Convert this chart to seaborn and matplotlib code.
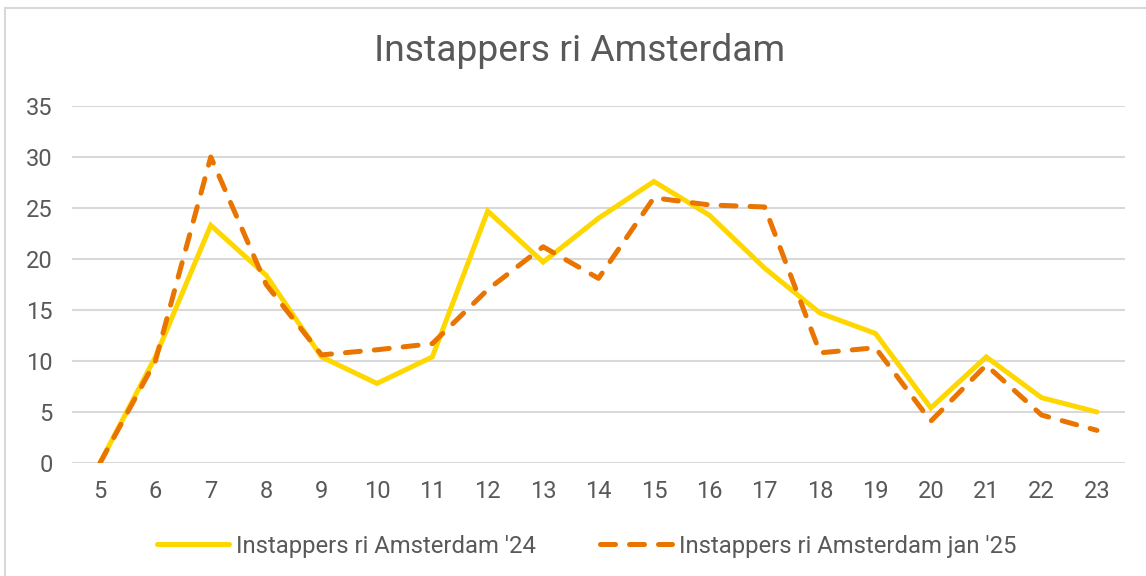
import matplotlib
matplotlib.use("Agg")
import matplotlib.pyplot as plt
import seaborn as sns
import pandas as pd
from matplotlib.lines import Line2D

hours = [5, 6, 7, 8, 9, 10, 11, 12, 13, 14, 15, 16, 17, 18, 19, 20, 21, 22, 23]
series_24 = [0, 10.4, 23.3, 18.4, 10.4, 7.8, 10.4, 24.7, 19.7, 24.0, 27.6, 24.3, 19.1, 14.7, 12.7, 5.4, 10.4, 6.4, 5.0]
series_25 = [0, 10.0, 30.0, 17.5, 10.6, 11.1, 11.7, 17.0, 21.2, 18.1, 26.0, 25.3, 25.1, 10.8, 11.3, 4.1, 9.6, 4.7, 3.2]
label_24 = "Instappers ri Amsterdam '24"
label_25 = "Instappers ri Amsterdam jan '25"
title = "Instappers ri Amsterdam"
yticks = [0, 5, 10, 15, 20, 25, 30, 35]

sns.set_theme(style="white")
plt.rcParams['font.family'] = ['Roboto', 'DejaVu Sans']

TEXT = '#595959'
GRID = '#D9D9D9'
YELLOW = '#FFD700'
ORANGE = '#E97500'

fig = plt.figure(figsize=(11.46, 5.76), dpi=100)
W, H = 1146, 576
ax = fig.add_axes([72.3 / W, 1 - 463 / H, (1124.7 - 72.3) / W, (463 - 106) / H])

df = pd.DataFrame({'hour': hours, 'v24': series_24, 'v25': series_25})

sns.lineplot(data=df, x='hour', y='v24', ax=ax, color=YELLOW, linewidth=3.6,
             solid_capstyle='round', solid_joinstyle='miter', zorder=3)
sns.lineplot(data=df, x='hour', y='v25', ax=ax, color=ORANGE, linewidth=3.6,
             dashes=(3.0, 2.8), dash_capstyle='round', dash_joinstyle='round', zorder=4)

ax.set_xlim(4.5, 23.5)
ax.set_ylim(0, 35)
ax.set_xticks(hours)
ax.set_xticklabels([str(h) for h in hours])
ax.set_yticks(yticks)
ax.set_yticklabels([str(t) for t in yticks])
ax.set_xlabel('')
ax.set_ylabel('')
for s in ax.spines.values():
    s.set_visible(False)
ax.grid(axis='y', color=GRID, linewidth=1.5, zorder=0)
ax.grid(axis='x', visible=False)
ax.set_axisbelow(True)
ax.tick_params(axis='both', length=0, labelsize=17, colors=TEXT)
ax.tick_params(axis='y', pad=14)
ax.tick_params(axis='x', pad=12)

fig.text(580 / W, 1 - 51 / H, title, ha='center', va='center', fontsize=26.8, color=TEXT)

handles = [Line2D([], [], color=YELLOW, linewidth=3.6, solid_capstyle='round'),
           Line2D([], [], color=ORANGE, linewidth=3.6, dashes=(3.0, 2.8), dash_capstyle='round')]
fig.legend(handles, [label_24, label_25], loc='center', bbox_to_anchor=(587 / W, 1 - 546 / H),
           ncol=2, frameon=False, fontsize=17.2, labelcolor=TEXT, handlelength=3.0,
           handletextpad=0.3, columnspacing=2.7)

fig.add_artist(Line2D([5 / W, 5 / W], [0, 1 - 8 / H], color=GRID, linewidth=1.5, transform=fig.transFigure))
fig.add_artist(Line2D([5 / W, 1], [1 - 8 / H, 1 - 8 / H], color=GRID, linewidth=1.5, transform=fig.transFigure))

fig.savefig('out.png', dpi=100, facecolor='white')
